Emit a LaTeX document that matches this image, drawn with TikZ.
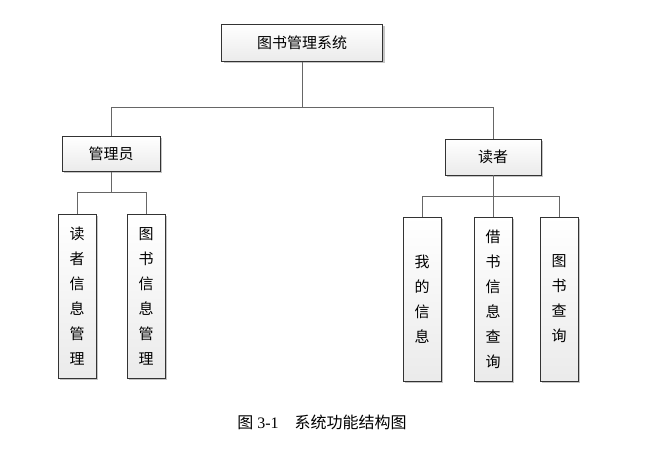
\documentclass[tikz,border=0pt]{standalone}
\usepackage{fontspec}
\setmainfont{Liberation Serif}
\newfontfamily\cjk{Noto Sans CJK SC}
\usetikzlibrary{shadows, calc}

\tikzset{
  box/.style={draw=black!80, thin, top color=white, bottom color=black!8,
    drop shadow={shadow xshift=2pt, shadow yshift=-2pt, fill=black!45},
    font=\cjk\fontsize{15}{18}\selectfont, inner sep=0pt},
  leaf/.style={box, minimum width=38pt, minimum height=164pt, align=center,
    font=\cjk\fontsize{15}{25}\selectfont},
  link/.style={draw=black!60, thin}
}

\begin{document}
\begin{tikzpicture}[x=1pt, y=-1pt]
\useasboundingbox (0,0) rectangle (665,462);
% root
\node[box, minimum width=161pt, minimum height=37pt] (Sys) at (302,43) {图书管理系统};
% branches
\node[box, minimum width=98pt, minimum height=35pt] (Admin) at (111,154) {管理员};
\node[box, minimum width=96pt, minimum height=36pt] (Reader) at (493,157) {读者};
% leaves
\node[leaf] (RInfo) at (77,296) {读\\者\\信\\息\\管\\理};
\node[leaf] (BInfo) at (146,296) {图\\书\\信\\息\\管\\理};
\node[leaf] (Mine) at (422,299) {我\\的\\信\\息};
\node[leaf] (Borrow) at (493,299) {借\\书\\信\\息\\查\\询};
\node[leaf] (Query) at (559,299) {图\\书\\查\\询};
% connectors
\coordinate (top) at ($(Sys.south)+(0,46)$);
\draw[link] (Sys.south) -- (top);
\draw[link] (Admin.north) |- (top) -| (Reader.north);
\draw[link] (Admin.south) -- ++(0,21) coordinate (aj);
\draw[link] (RInfo.north) |- (aj) -| (BInfo.north);
\draw[link] (Reader.south) -- ++(0,21) coordinate (rj);
\draw[link] (Mine.north) |- (rj) -| (Query.north);
\draw[link] (rj) -- (Borrow.north);
% caption
\node[font=\fontsize{16}{18}\selectfont] (Cap) at (322,422) {{\cjk 图} 3-1\quad{\cjk 系统功能结构图}};
\end{tikzpicture}
\end{document}
